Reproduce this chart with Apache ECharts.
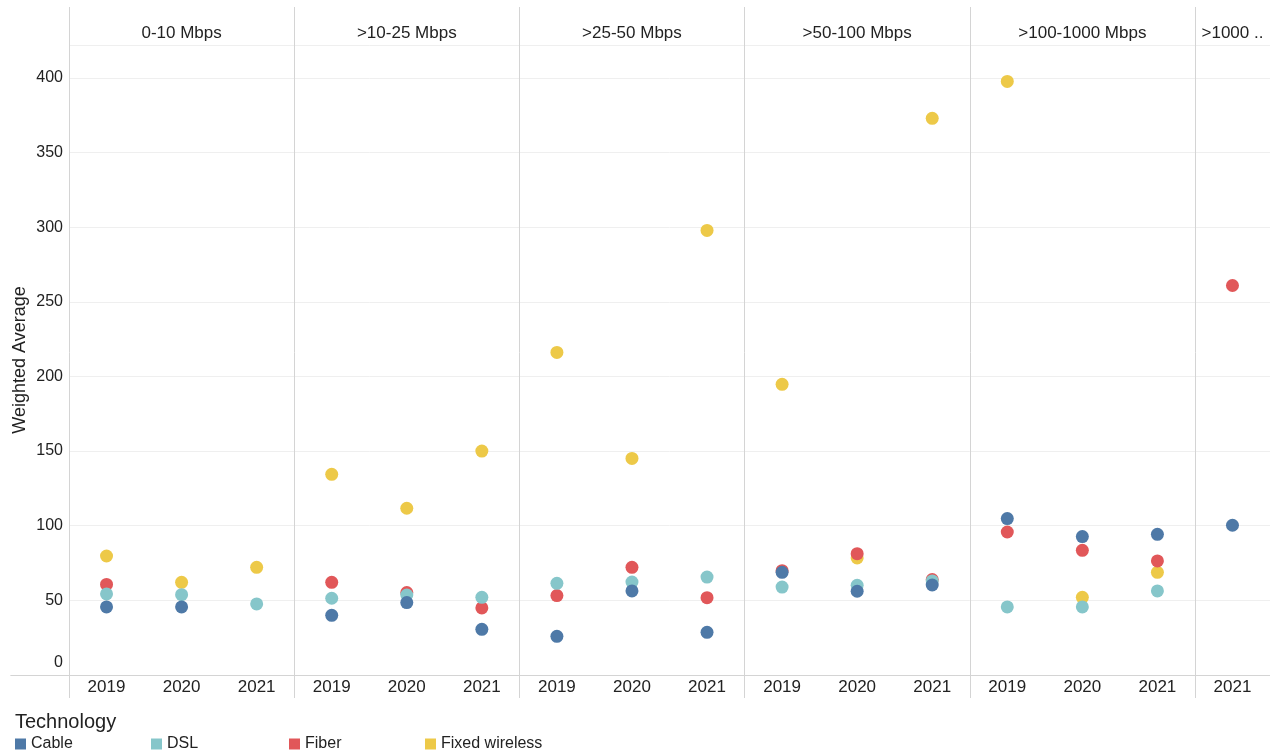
<!DOCTYPE html>
<html>
<head>
<meta charset="utf-8">
<script src="https://cdn.jsdelivr.net/npm/echarts@6/dist/echarts.min.js"></script>
<style>
  html, body { margin: 0; padding: 0; background: #fff; }
  #chart { width: 1270px; height: 755px; }
</style>
</head>
<body>
<div id="chart"></div>
<script>
// panels (speed tiers) and the years shown in each
var panels = ['0-10 Mbps', '>10-25 Mbps', '>25-50 Mbps', '>50-100 Mbps', '>100-1000 Mbps', '>1000 ..'];
var panelYears = [
  ['2019', '2020', '2021'],
  ['2019', '2020', '2021'],
  ['2019', '2020', '2021'],
  ['2019', '2020', '2021'],
  ['2019', '2020', '2021'],
  ['2021']
];

// weighted average per column (16 columns, left to right)
var cable    = [45.6, 45.6, null, 40.0, 48.5, 30.6, 25.9, 56.3, 28.6, 68.8, 56.1, 60.3, 104.8, 92.7, 94.2, 100.3];
var dsl      = [54.3, 53.8, 47.6, 51.4, 53.6, 52.0, 61.4, 62.3, 65.6, 58.9, 60.1, 63.0, 45.6, 45.6, 56.3, null];
var fiber    = [60.7, null, null, 62.1, 55.2, 44.9, 53.2, 72.1, 51.8, 69.9, 81.3, 63.9, 95.8, 83.5, 76.4, 260.9];
var wireless = [79.7, 62.1, 72.1, 134.4, 111.7, 150.0, 216.1, 145.1, 297.8, 194.7, 78.4, 372.9, 397.6, 52.0, 68.8, null];

var techNames = ['Cable', 'DSL', 'Fiber', 'Fixed wireless'];
var techColors = ['#4e79a7', '#86c6ca', '#e15759', '#edc948'];

var yTicks = [0, 50, 100, 150, 200, 250, 300, 350, 400];

// build unique category keys "panel|year"
var cats = [], catYear = {}, catPanel = {}, panelStart = {};
panels.forEach(function(p, pi) {
  panelYears[pi].forEach(function(y, yi) {
    var key = p + '|' + y;
    if (yi === 0) panelStart[cats.length] = true;
    catYear[key] = y;
    // header label sits on the middle column of each panel
    if (yi === Math.floor((panelYears[pi].length - 1) / 2)) catPanel[key] = p;
    cats.push(key);
  });
});

function toData(arr) {
  var out = [];
  for (var i = 0; i < arr.length; i++) {
    if (arr[i] != null) out.push([cats[i], arr[i]]);
  }
  return out;
}

var font = 'Liberation Sans, Arial, sans-serif';
var lineColor = '#d4d4d4';

// one legend per item so the items sit at fixed spacing like the original
var legendLeft = [15, 151, 289, 425];
var legends = techNames.map(function(n, i) {
  return {
    data: [n],
    left: legendLeft[i],
    top: 736,
    padding: 0,
    icon: 'rect',
    itemWidth: 11,
    itemHeight: 11,
    itemGap: 0,
    textStyle: { fontFamily: font, fontSize: 16, color: '#222' }
  };
});

var seriesData = { 'Cable': cable, 'DSL': dsl, 'Fiber': fiber, 'Fixed wireless': wireless };
// draw order: Fixed wireless at the bottom, Cable on top
var drawOrder = ['Fixed wireless', 'Fiber', 'DSL', 'Cable'];
var series = drawOrder.map(function(n) {
  return {
    name: n, type: 'scatter', xAxisIndex: 0, yAxisIndex: 0,
    symbolSize: 13,
    itemStyle: { color: techColors[techNames.indexOf(n)], opacity: 1 },
    data: toData(seriesData[n])
  };
});

var option = {
  animation: false,
  backgroundColor: '#fff',
  textStyle: { fontFamily: font },
  title: {
    text: 'Technology',
    left: 10,
    top: 707,
    textStyle: { fontFamily: font, fontSize: 20, fontWeight: 'normal', color: '#222' }
  },
  legend: legends,
  grid: [
    { left: 69, right: 0, top: 45, bottom: 80 },   // plot
    { left: 11, right: 0, top: 45, bottom: 80 },   // long horizontal rules
    { left: 69, right: 0, top: 7, bottom: 57 }     // panel separators
  ],
  xAxis: [
    {
      gridIndex: 0, type: 'category', position: 'bottom', data: cats,
      axisLine: { show: false },
      axisTick: { show: false },
      axisLabel: {
        margin: 4, fontSize: 17, color: '#222', fontFamily: font, interval: 0,
        formatter: function(v) { return catYear[v]; }
      },
      splitLine: { show: false }
    },
    {
      gridIndex: 0, type: 'category', position: 'top', data: cats,
      axisLine: { show: false },
      axisTick: { show: false },
      axisLabel: {
        margin: 3, fontSize: 17, color: '#222', fontFamily: font, interval: 0,
        formatter: function(v) { return catPanel[v] || ''; }
      },
      splitLine: { show: false }
    },
    {
      gridIndex: 1, type: 'value', position: 'top', min: 0, max: 1,
      axisLine: { show: true, lineStyle: { color: lineColor, width: 1 } },
      axisTick: { show: false }, axisLabel: { show: false }, splitLine: { show: false }
    },
    {
      gridIndex: 1, type: 'value', position: 'bottom', min: 0, max: 1,
      axisLine: { show: true, lineStyle: { color: lineColor, width: 1 } },
      axisTick: { show: false }, axisLabel: { show: false }, splitLine: { show: false }
    },
    {
      gridIndex: 2, type: 'category', data: cats,
      axisLine: { show: false }, axisTick: { show: false }, axisLabel: { show: false },
      splitLine: {
        show: true,
        interval: function(index) { return !!panelStart[index]; },
        lineStyle: { color: lineColor, width: 1 }
      }
    }
  ],
  yAxis: [
    {
      gridIndex: 0, type: 'value', min: 0, max: 422, interval: 50,
      name: 'Weighted Average',
      nameLocation: 'middle',
      nameGap: 40,
      nameMoveOverlap: false,
      nameTextStyle: { fontFamily: font, fontSize: 18, color: '#222' },
      axisLine: { show: false },
      axisTick: { show: false },
      axisLabel: {
        margin: 6, fontSize: 16, color: '#222', fontFamily: font,
        formatter: function(v) { return v === 0 ? '{z|0}' : (yTicks.indexOf(v) >= 0 ? String(v) : ''); },
        rich: { z: { fontSize: 16, color: '#222', fontFamily: font, padding: [0, 0, 24, 0] } }
      },
      splitLine: { show: true, lineStyle: { color: '#efefef', width: 1 } }
    },
    { gridIndex: 1, type: 'value', show: false, min: 0, max: 1 },
    { gridIndex: 2, type: 'value', show: false, min: 0, max: 1 }
  ],
  series: series
};

var myChart = echarts.init(document.getElementById('chart'), null, { renderer: 'canvas' });
myChart.setOption(option);
</script>
</body>
</html>
